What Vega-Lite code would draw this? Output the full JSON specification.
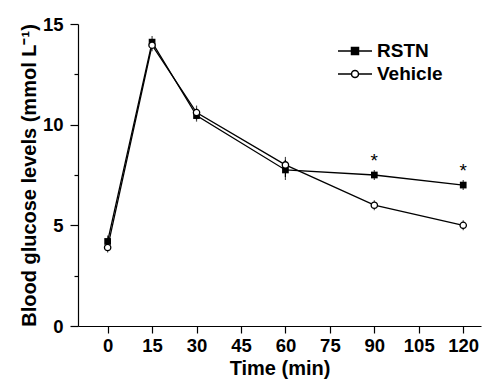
{
  "$schema": "https://vega.github.io/schema/vega-lite/v6.json",
  "width": 403,
  "height": 302,
  "autosize": "none",
  "padding": {"left": 78, "top": 24, "right": 2, "bottom": 56},
  "background": "white",
  "config": {
    "view": {"stroke": null},
    "font": "Liberation Sans",
    "axis": {"domainColor": "black", "tickColor": "black", "labelColor": "black", "titleColor": "black", "grid": false, "labelFont": "Liberation Sans", "titleFont": "Liberation Sans", "labelFontWeight": "bold", "titleFontWeight": "bold", "labelFontSize": 18.5, "titleFontSize": 20, "domainWidth": 1.2, "tickWidth": 1.2}
  },
  "data": {"values": [
    {"time": 0, "series": "RSTN", "mean": 4.2, "lo": 4.05, "hi": 4.35, "sig": ""},
    {"time": 15, "series": "RSTN", "mean": 14.1, "lo": 13.95, "hi": 14.25, "sig": ""},
    {"time": 30, "series": "RSTN", "mean": 10.45, "lo": 10.3, "hi": 10.6, "sig": ""},
    {"time": 60, "series": "RSTN", "mean": 7.75, "lo": 7.4, "hi": 8.1, "sig": ""},
    {"time": 90, "series": "RSTN", "mean": 7.5, "lo": 7.4, "hi": 7.6, "sig": "*"},
    {"time": 120, "series": "RSTN", "mean": 7.0, "lo": 6.9, "hi": 7.1, "sig": "*"},
    {"time": 0, "series": "Vehicle", "mean": 3.9, "lo": 3.8, "hi": 4.0, "sig": ""},
    {"time": 15, "series": "Vehicle", "mean": 13.95, "lo": 13.8, "hi": 14.1, "sig": ""},
    {"time": 30, "series": "Vehicle", "mean": 10.6, "lo": 10.4, "hi": 10.8, "sig": ""},
    {"time": 60, "series": "Vehicle", "mean": 8.0, "lo": 7.75, "hi": 8.25, "sig": ""},
    {"time": 90, "series": "Vehicle", "mean": 6.0, "lo": 5.9, "hi": 6.1, "sig": ""},
    {"time": 120, "series": "Vehicle", "mean": 5.0, "lo": 4.9, "hi": 5.1, "sig": ""}
  ]},
  "encoding": {
    "x": {"field": "time", "type": "quantitative", "scale": {"domain": [-10, 126], "nice": false, "zero": false},
      "axis": {"values": [0, 15, 30, 45, 60, 75, 90, 105, 120], "title": "Time (min)", "tickSize": 7, "labelPadding": 3, "titlePadding": 4}},
    "y": {"field": "mean", "type": "quantitative", "scale": {"domain": [0, 15], "nice": false},
      "axis": {"values": [0, 2.5, 5, 7.5, 10, 12.5, 15], "title": "Blood glucose levels (mmol L\u207b\u00b9)",
        "labelExpr": "datum.value % 5 === 0 ? datum.label : ''",
        "tickSize": {"condition": {"test": "datum.value % 5 === 0", "value": 8}, "value": 4},
        "labelPadding": 7, "titlePadding": 3}}
  },
  "layer": [
    {"mark": {"type": "rule", "color": "black", "strokeWidth": 1.2}, "encoding": {"y": {"field": "lo", "type": "quantitative"}, "y2": {"field": "hi"}}},
    {"mark": {"type": "tick", "color": "black", "size": 6, "thickness": 1.2}, "encoding": {"y": {"field": "lo", "type": "quantitative"}}},
    {"mark": {"type": "tick", "color": "black", "size": 6, "thickness": 1.2}, "encoding": {"y": {"field": "hi", "type": "quantitative"}}},
    {"mark": {"type": "line", "color": "black", "strokeWidth": 1.3}, "encoding": {"detail": {"field": "series"}}},
    {"transform": [{"filter": "datum.series === 'RSTN'"}], "mark": {"type": "point", "shape": "square", "filled": true, "color": "black", "size": 45, "opacity": 1}},
    {"transform": [{"filter": "datum.series === 'Vehicle'"}], "mark": {"type": "point", "shape": "circle", "fill": "white", "stroke": "black", "strokeWidth": 1.3, "size": 40, "opacity": 1}},
    {"mark": {"type": "text", "fontSize": 19, "font": "Liberation Sans", "baseline": "middle", "dy": -14, "color": "black"}, "encoding": {"text": {"field": "sig"}}},
    {"transform": [{"filter": "false"}],
      "mark": {"type": "point", "stroke": "black", "strokeWidth": 1.3, "opacity": 1},
      "encoding": {
        "shape": {"field": "series", "type": "nominal", "scale": {"domain": ["RSTN", "Vehicle"], "range": ["M-1.7,0H-0.35M0.35,0H1.7M-0.35,-0.35H0.35V0.35H-0.35Z", "M-1.7,0H-0.35M0.35,0H1.7M0.35,0A0.35,0.35 0 1,1 -0.35,0A0.35,0.35 0 1,1 0.35,0Z"]},
          "legend": {"title": null, "orient": "none", "legendX": 266, "legendY": 16, "symbolSize": 400, "symbolOpacity": 1, "labelFontSize": 19, "labelFontWeight": "bold", "labelFont": "Liberation Sans", "labelColor": "black", "labelOffset": 11, "rowPadding": 2,
            "encode": {"symbols": {"update": {"stroke": {"value": "black"}, "strokeWidth": {"value": 1.3}, "strokeOpacity": {"value": 1}}}}}},
        "fill": {"field": "series", "type": "nominal", "scale": {"domain": ["RSTN", "Vehicle"], "range": ["black", "white"]}}
      }}
  ]
}
